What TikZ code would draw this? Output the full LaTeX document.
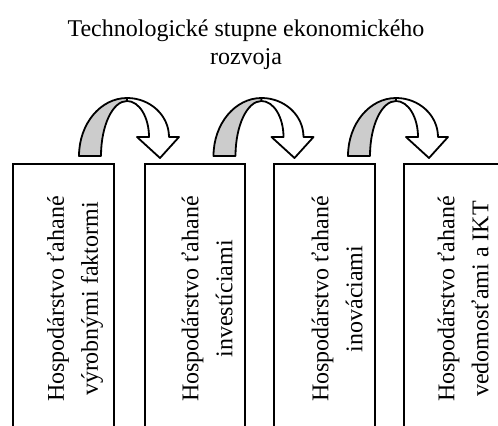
\documentclass[tikz,border=0pt]{standalone}
\usepackage{fontspec}
\setmainfont{Liberation Serif}
\begin{document}
\begin{tikzpicture}[x=1bp,y=1bp,
  frame/.style={line width=2bp},
  ribbon/.style={line width=1.8bp, line join=round},
  boxtext/.style={rotate=90, align=center, font=\fontsize{24bp}{34bp}\selectfont, inner sep=0pt},
  titletext/.style={align=center, font=\fontsize{24bp}{28bp}\selectfont, inner sep=0pt}]
\useasboundingbox (0,0) rectangle (498,425);
\clip (0,0) rectangle (498,425);
\fill[white] (0,0) rectangle (498,425);

% title
\node[titletext] (title) at (246,380) {Technologické stupne ekonomického\\rozvoja};

% boxes
\foreach \xl/\xr in {13/114, 145/245, 274/375, 404/505}{
  \draw[frame] (\xl,-5) -- (\xl,261) -- (\xr,261) -- (\xr,-5);
}
\node[boxtext] (b1) at (75,126) {Hospodárstvo ťahané\\výrobnými faktormi};
\node[boxtext] (b2) at (207,126) {Hospodárstvo ťahané\\investíciami};
\node[boxtext] (b3) at (337,126) {Hospodárstvo ťahané\\inováciami};
\node[boxtext] (b4) at (463,126) {Hospodárstvo ťahané\\vedomosťami a IKT};

% curved arrows
\foreach \dx in {0,135,270}{
  \begin{scope}[xshift=\dx]
    \filldraw[ribbon, fill=black!20] (79,269) arc[start angle=180, end angle=90, x radius=48, y radius=58]
      -- (127,324) arc[start angle=90, end angle=180, x radius=26, y radius=55] -- cycle;
    \filldraw[ribbon, fill=white] (127,327) arc[start angle=90, end angle=0, x radius=42, y radius=39]
      -- (179,288) -- (160,267) -- (137,288) -- (149,288)
      arc[start angle=0, end angle=90, x radius=22, y radius=36] -- cycle;
  \end{scope}
}
\end{tikzpicture}
\end{document}
